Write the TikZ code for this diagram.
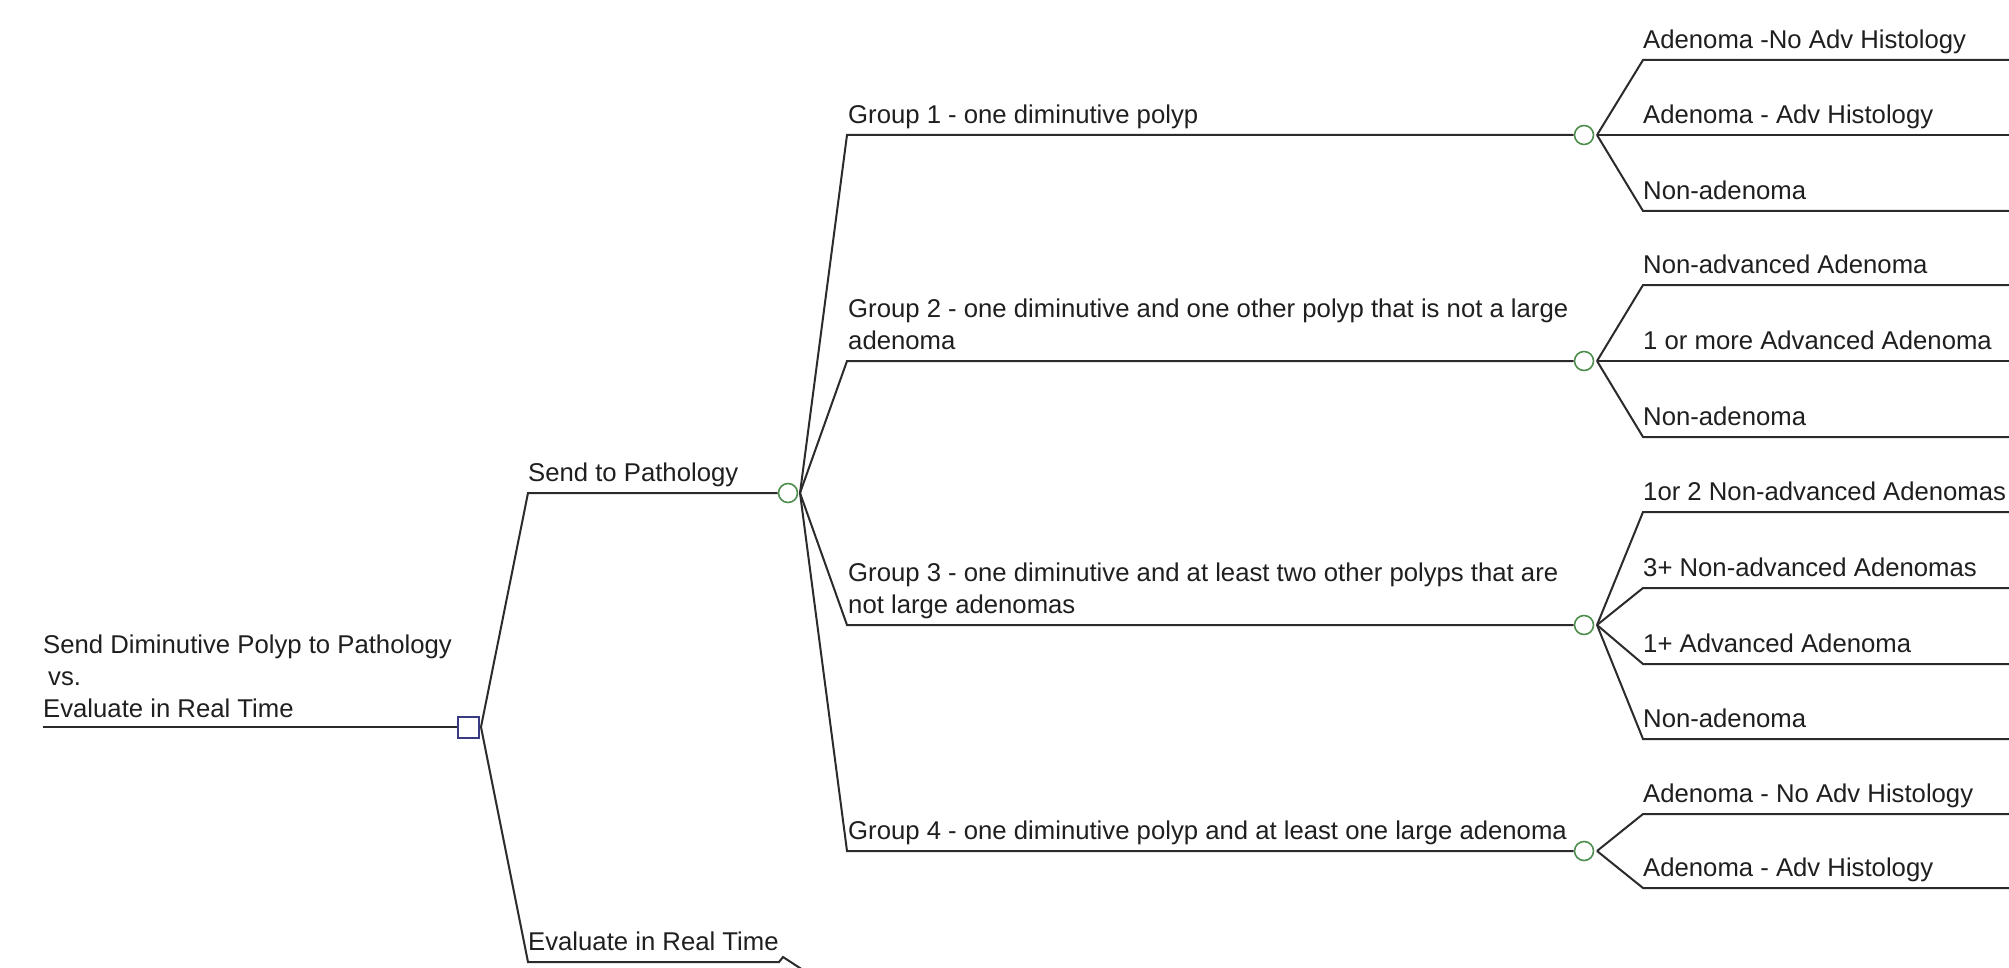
\documentclass[tikz,border=0pt]{standalone}
\usepackage{fontspec}
\setmainfont{Liberation Sans}
\definecolor{navyd}{HTML}{3A3A82}
\definecolor{chgreen}{HTML}{4E8E4E}
\definecolor{linec}{HTML}{2B2B2B}
\begin{document}
\begin{tikzpicture}[x=1pt,y=-1pt,
  edge/.style={draw=linec, line width=2pt},
  lbl/.style={font=\fontsize{25.7}{32}\selectfont, inner sep=0pt, text depth=0pt, anchor=south west, align=left, text=black!88},
  decision/.style={draw=navyd, line width=2pt, rectangle, minimum size=21pt, inner sep=0pt, fill=white},
  chance/.style={draw=chgreen, line width=1.6pt, circle, minimum size=19pt, inner sep=0pt, fill=white},
]
\useasboundingbox[fill=white] (0,0) rectangle (2009,968);

% root
\coordinate (r0) at (43,727);
\node[decision] (d) at (468,727) {};
\coordinate (da) at (481,727);
\draw[edge] (r0) -- (d);
\node[lbl] (troot) at (43,718) {Send Diminutive Polyp to Pathology\\\hspace{5pt}vs.\\Evaluate in Real Time};

% Send to Pathology
\coordinate (p0) at (528,493);
\node[chance] (c0) at (788,493) {};
\coordinate (c0a) at (800,493);
\draw[edge] (da) -- (p0) -- (c0);
\node[lbl] (tp) at (528,482) {Send to Pathology};

% Evaluate in Real Time
\coordinate (e0) at (528,962);
\coordinate (e1) at (779,962);
\coordinate (t1) at (783,957);
\coordinate (t2) at (803,970);
\draw[edge] (da) -- (e0) -- (e1) -- (t1) -- (t2);
\node[lbl] (te) at (528,951) {Evaluate in Real Time};

% Groups
\foreach \k/\y in {1/135,2/361,3/625,4/851}{
  \coordinate (g\k) at (847,\y);
  \node[chance] (gc\k) at (1584,\y) {};
  \coordinate (ga\k) at (1597,\y);
  \draw[edge] (c0a) -- (g\k) -- (gc\k);
}
\node[lbl] (tg1) at (848,124) {Group 1 - one diminutive polyp};
\node[lbl] (tg2) at (848,350) {Group 2 - one diminutive and one other polyp that is not a large\\adenoma};
\node[lbl] (tg3) at (848,614) {Group 3 - one diminutive and at least two other polyps that are\\not large adenomas};
\node[lbl] (tg4) at (848,840) {Group 4 - one diminutive polyp and at least one large adenoma};

% Leaves
\foreach \k/\i/\y/\t in {
  1/1/60/{Adenoma -No Adv Histology},
  1/2/135/{Adenoma - Adv Histology},
  1/3/211/{Non-adenoma},
  2/1/285/{Non-advanced Adenoma},
  2/2/361/{1 or more Advanced Adenoma},
  2/3/437/{Non-adenoma},
  3/1/512/{1or 2 Non-advanced Adenomas},
  3/2/588/{3+ Non-advanced Adenomas},
  3/3/664/{1+ Advanced Adenoma},
  3/4/739/{Non-adenoma},
  4/1/814/{Adenoma - No Adv Histology},
  4/2/888/{Adenoma - Adv Histology}}{
  \coordinate (l\k\i) at (1643,\y);
  \coordinate (le\k\i) at (2009,\y);
  \draw[edge] (ga\k) -- (l\k\i) -- (le\k\i);
  \node[lbl] (tl\k\i) at (1643,\y-11) {\t};
}
\end{tikzpicture}
\end{document}
